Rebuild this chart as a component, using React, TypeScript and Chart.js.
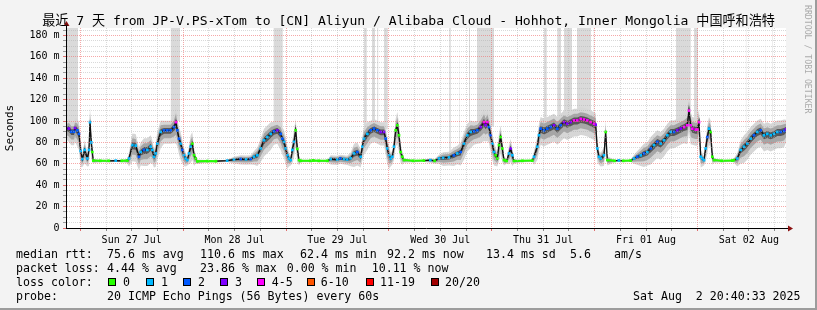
import React, { useEffect, useRef } from "react";
import { Chart, registerables } from "chart.js";

Chart.register(...registerables);

// ---------- text ----------
const TITLE =
  "最近 7 天 from JP-V.PS-xTom to [CN] Aliyun / Alibaba Cloud - Hohhot, Inner Mongolia 中国呼和浩特";
const dayLabels = ["Sun 27 Jul", "Mon 28 Jul", "Tue 29 Jul", "Wed 30 Jul", "Thu 31 Jul", "Fri 01 Aug", "Sat 02 Aug"];
const rttStats = [75.6, 110.6, 62.4, 92.2, 13.4];
const rttStatNames = ["avg", "max", "min", "now", "sd"];
const amPerSec = 5.6;
const lossStats = [4.44, 23.86, 0.0, 10.11];
const lossStatNames = ["avg", "max", "min", "now"];
const lossLabels = ["0", "1", "2", "3", "4-5", "6-10", "11-19", "20/20"];
const lossColors = ["#26ff00", "#00b8ff", "#0059ff", "#7e00ff", "#ff00ff", "#ff5500", "#ff0000", "#a10000"];
const probeText = "20 ICMP Echo Pings (56 Bytes) every 60s";
const stampText = "Sat Aug  2 20:40:33 2025";

// ---------- axes ----------
const SPAN_H = 168; // 7 days shown, hours since Sat 26 Jul 20:40
const FIRST_MIDNIGHT_H = 10 / 3; // Sun 27 Jul 00:00
const Y_MAX = 187;
const yTickValues = Array.from({ length: 38 }, (_, i) => i * 5);
const xTickValues = Array.from({ length: 28 }, (_, k) => FIRST_MIDNIGHT_H + 6 * k);

// ---------- data (hours since start, median rtt ms, loss class, smoke spread ms) ----------
const hours = [
  0.0, 0.7, 1.24, 1.87, 2.1, 2.64, 3.03, 3.42, 3.81, 4.36, 4.98, 5.37, 5.6, 5.9, 6.14, 6.38,
  8, 10, 11.6, 13, 14.3, 14.7, 15.48, 16.26, 17.03, 17.42, 18.2, 18.98, 19.76, 20.14, 20.53, 20.92, 21.31, 22.09,
  22.87, 23.64, 24.42, 25.2, 25.67, 25.98, 26.37, 26.76, 27.15, 27.53, 27.92, 28.31, 28.7, 29.09, 29.48, 29.87, 30.26, 30.64,
  33, 35, 37.6, 39.2, 40.76, 42, 43.09, 43.87, 44.64, 45.42, 46.2, 46.98, 47.76, 48.53, 49.31, 50.09, 50.48, 50.87,
  51.26, 51.65, 52.03, 52.42, 52.81, 53.2, 53.59, 53.98, 54.37, 54.8, 57, 57.7, 59, 61,
  61.76, 63.3, 64, 64.87, 65.6, 66.42, 67.2, 67.98, 68.76, 69.15, 69.53, 70.31, 71.09, 71.87, 72.65, 73.42, 74.2,
  74.59, 74.98, 75.37, 75.76, 76.14, 76.53, 76.92, 77.31, 77.7, 78.09, 78.48, 78.87, 81,
  83.53, 85, 86, 87.03, 88, 89.36, 90.5, 91.31, 92.09, 92.86, 93.64, 94.42, 95.2, 95.97, 96.75, 97.53, 97.92, 98.31,
  98.7, 99.09, 99.47, 99.86, 100.25, 100.64, 101.03, 101.42, 101.81, 102.2, 102.82, 103.36, 103.75, 104.14, 104.53,
  106.5, 108.8,
  109.2, 109.97, 110.36, 110.75, 111.53, 112.31, 113.09, 113.86, 114.64, 115.42, 116.2, 116.97, 117.75, 118.53,
  119.31, 120.09, 120.86, 121.64, 122.42, 123.2, 123.59, 123.97, 124.36, 124.75, 125.53, 125.92, 126.31, 128, 129,
  130, 131.75,
  132.53, 133.31, 134.09, 134.86, 135.64, 136.42, 137.2, 137.97, 138.75, 139.53, 140.31, 141.09, 141.86, 142.64,
  143.42, 144.2, 144.97, 145.36, 145.75, 146.14, 146.92, 147.31, 147.7, 148.09, 148.48, 148.86, 149.25, 149.64,
  150.03, 150.42, 150.81, 151.2, 153, 155.47,
  155.86, 156.64, 157.42, 158.2, 158.97, 159.75, 160.53, 161.31, 162.09, 162.86, 163.64, 164.42, 165.2, 165.98,
  166.75, 167.53, 168,
];
const median = [
  93, 93, 90, 90, 93.5, 91.3, 88, 72, 64.5, 73, 65, 73, 99, 80, 71, 63,
  62.8, 62.8, 63, 62.8, 63, 65, 77.5, 77, 66.6, 71, 73, 73, 76, 73, 66.6, 69.7, 79, 89.8,
  91.3, 91.3, 91.3, 94.4, 99, 91.3, 83.6, 79, 73, 68, 65, 63.5, 69.7, 76, 79, 68, 65, 62.3,
  62.6, 62.5, 63, 64, 64.5, 64.2, 64.5, 66.6, 68, 74.4, 82, 85, 88, 90.4, 91.3, 88, 83.6, 80.5,
  74.4, 68, 65, 63.5, 73, 80.5, 91.3, 74, 63.5, 62.8, 62.8, 63.2, 62.8, 62.8,
  64.5, 64, 65, 64.5, 64, 65.2, 69.7, 71, 66.6, 76, 83.6, 88, 91.3, 92.9, 91.3, 89.8, 89.8,
  83.6, 74.4, 68, 65, 66.6, 76, 91.3, 96, 86.7, 71, 66.6, 63.5, 62.8,
  63, 63.5, 62.8, 65, 65.5, 66, 68, 69.7, 71, 79, 86.7, 89.8, 90.4, 91.3, 94.4, 99, 96, 99,
  94.4, 86.7, 79, 71, 68, 65, 77.5, 85, 74.4, 63.5, 62.7, 69.7, 74.4, 68, 62.7,
  62.8, 63,
  66.6, 76, 86.7, 92.9, 91.3, 92.9, 94.4, 96, 92.9, 96, 99, 97.5, 99, 100.6,
  100.6, 102, 101.5, 100.6, 99, 97.5, 96.6, 74.4, 66.6, 65, 68, 89.8, 63.5, 62.8, 63.2,
  62.8, 63,
  65, 66.6, 68, 69.7, 71, 74.4, 77.5, 80.5, 79, 82, 86.7, 89.8, 89.8, 91.3,
  92.9, 94.4, 96, 109.8, 96, 92.9, 92, 92, 99, 66.6, 65, 63.5, 74.4, 85,
  92.9, 89.8, 66.6, 63.5, 62.8, 63,
  63.5, 65, 73, 76, 79, 83.6, 86.7, 89.8, 91.3, 86.7, 88, 86.7, 88, 89.8,
  89.8, 90.7, 92.2,
];
const loss = [
  3, 3, 2, 2, 3, 2, 2, 1, 1, 1, 1, 1, 1, 1, 0, 0,
  0, 0, 1, 0, 0, 1, 1, 1, 2, 1, 2, 1, 1, 1, 1, 1, 1, 1,
  2, 2, 2, 2, 4, 2, 2, 1, 2, 1, 1, 1, 1, 1, 0, 0, 0, 0,
  0, 0, 1, 1, 2, 1, 2, 1, 1, 1, 1, 1, 1, 2, 3, 2, 2, 1,
  1, 1, 1, 1, 1, 1, 0, 0, 0, 0, 0, 0, 0, 0,
  1, 1, 2, 1, 1, 1, 1, 2, 1, 1, 1, 1, 2, 2, 2, 3, 3,
  2, 1, 1, 1, 1, 1, 0, 0, 0, 0, 0, 0, 0,
  0, 1, 0, 1, 1, 1, 2, 1, 2, 1, 1, 1, 2, 2, 3, 4, 3, 4,
  2, 2, 1, 1, 0, 0, 0, 0, 0, 0, 0, 1, 3, 1, 0,
  0, 0,
  1, 1, 1, 2, 2, 2, 2, 3, 2, 2, 3, 3, 3, 4,
  4, 4, 4, 4, 4, 4, 3, 1, 1, 1, 1, 0, 0, 0, 1,
  0, 0,
  1, 2, 1, 2, 1, 2, 1, 2, 1, 1, 1, 1, 2, 3,
  3, 4, 4, 4, 4, 4, 4, 4, 4, 1, 1, 1, 1, 2,
  1, 0, 0, 0, 0, 0,
  0, 1, 1, 1, 1, 1, 2, 1, 2, 1, 1, 1, 1, 1,
  2, 2, 3,
];
const smoke = [
  4, 5, 5, 5, 5, 6, 6, 6, 3, 5, 3, 6, 8, 6, 4, 1,
  0.5, 0.5, 0.5, 0.5, 1, 3, 6, 6, 5, 5, 6, 6, 6, 5, 4, 5, 6, 6,
  5, 5, 5, 6, 8, 6, 6, 6, 5, 4, 3, 2, 4, 6, 6, 4, 2, 1,
  0.5, 0.5, 0.5, 1.5, 2, 2, 2, 3, 4, 5, 6, 6, 6, 5, 5, 6, 6, 6,
  6, 5, 3, 2, 5, 6, 6, 5, 2, 0.5, 0.5, 0.5, 0.5, 0.5,
  2, 2, 2, 2, 2, 3, 5, 5, 4, 5, 6, 6, 5, 5, 5, 5, 5,
  6, 6, 5, 3, 3, 5, 6, 7, 6, 4, 3, 1, 0.5,
  0.5, 1, 1, 2, 3, 3, 4, 4, 5, 6, 6, 6, 5, 5, 6, 7, 6, 7,
  6, 6, 6, 5, 4, 3, 6, 6, 5, 2, 1, 4, 5, 4, 1,
  0.5, 0.5,
  3, 5, 6, 6, 6, 6, 6, 6, 6, 6, 6, 6, 6, 6,
  6, 6, 6, 6, 6, 6, 6, 5, 3, 3, 4, 6, 2, 0.5, 0.5,
  0.5, 0.5,
  2, 3, 4, 5, 5, 6, 6, 6, 6, 6, 6, 6, 6, 6,
  6, 6, 7, 8, 7, 6, 6, 6, 7, 4, 3, 2, 5, 6,
  6, 6, 3, 1, 0.5, 0.5,
  1, 3, 5, 6, 6, 6, 6, 6, 6, 6, 6, 6, 6, 6,
  6, 6, 5,
];

// light-grey smoke columns that run off the top of the graph
const spikeStart = [0.2, 24.4, 48.4, 69.5, 71.4, 72.6, 74.2, 89.4, 91.7, 94.0, 95.9, 111.5, 114.6, 116.2, 119.2, 123.1, 142.3, 146.5, 158.6, 163.1, 164.7];
const spikeEnd = [2.8, 26.6, 50.6, 70.2, 72.1, 72.9, 75.1, 89.8, 91.9, 94.3, 99.9, 112.2, 115.5, 118.1, 122.5, 123.3, 145.8, 147.5, 158.8, 163.3, 164.9];
const spikeLow = [95, 100, 95, 92, 95, 95, 92, 68, 72, 90, 95, 95, 95, 100, 102, 95, 95, 95, 80, 90, 90];

const MONO = "'DejaVu Sans Mono', 'Noto Sans CJK SC', monospace";

const isMidnight = (v: number) => {
  const r = (((v - FIRST_MIDNIGHT_H) % 24) + 24) % 24;
  return r < 0.01 || r > 23.99;
};

const RED_GRID = "rgba(240,110,110,0.6)";
const GREY_GRID = "rgba(170,170,170,0.45)";

const bgPlugin = {
  id: "plotBg",
  beforeDraw(chart: any) {
    const { ctx, chartArea } = chart;
    ctx.save();
    ctx.fillStyle = "#ffffff";
    ctx.fillRect(chartArea.left, chartArea.top, chartArea.right - chartArea.left, chartArea.bottom - chartArea.top);
    ctx.restore();
  },
};

const arrowPlugin = {
  id: "axisArrows",
  afterDraw(chart: any) {
    const { ctx, chartArea } = chart;
    const { left, right, top, bottom } = chartArea;
    ctx.save();
    ctx.strokeStyle = "#000";
    ctx.lineWidth = 1;
    ctx.beginPath();
    ctx.moveTo(right, bottom + 0.5);
    ctx.lineTo(right + 3, bottom + 0.5);
    ctx.moveTo(left + 0.5, top);
    ctx.lineTo(left + 0.5, top - 3);
    ctx.stroke();
    ctx.fillStyle = "#8b1010";
    ctx.beginPath();
    ctx.moveTo(right + 2, bottom - 2.5);
    ctx.lineTo(right + 7, bottom + 0.5);
    ctx.lineTo(right + 2, bottom + 3.5);
    ctx.closePath();
    ctx.fill();
    ctx.beginPath();
    ctx.moveTo(left - 2.5, top - 2);
    ctx.lineTo(left + 0.5, top - 7);
    ctx.lineTo(left + 3.5, top - 2);
    ctx.closePath();
    ctx.fill();
    ctx.restore();
  },
};

function SmokeChart() {
  const ref = useRef<HTMLCanvasElement | null>(null);
  useEffect(() => {
    if (!ref.current) return;
    const datasets: any[] = [];
    spikeStart.forEach((s, i) => {
      datasets.push({
        type: "line",
        data: [
          { x: s, y: Y_MAX },
          { x: spikeEnd[i], y: Y_MAX },
        ],
        fill: { value: spikeLow[i] },
        backgroundColor: "#dadada",
        borderColor: "rgba(0,0,0,0)",
        borderWidth: 0,
        pointRadius: 0,
        order: 30,
      });
    });
    const bands: [number, string][] = [
      [1.8, "#d6d6d6"],
      [1.05, "#a6a6a6"],
      [0.45, "#575757"],
    ];
    bands.forEach(([k, c], j) => {
      const lowIdx = datasets.length;
      datasets.push({
        type: "line",
        data: hours.map((h, i) => ({ x: h, y: median[i] - smoke[i] * k * 1.4 })),
        borderColor: "rgba(0,0,0,0)",
        borderWidth: 0,
        pointRadius: 0,
        fill: false,
        order: 20 - j * 2,
      });
      datasets.push({
        type: "line",
        data: hours.map((h, i) => ({ x: h, y: median[i] + smoke[i] * k })),
        borderColor: "rgba(0,0,0,0)",
        borderWidth: 0,
        pointRadius: 0,
        fill: lowIdx,
        backgroundColor: c,
        order: 20 - j * 2,
      });
    });
    datasets.push({
      type: "line",
      data: hours.map((h, i) => ({ x: h, y: median[i] })),
      borderWidth: 1.3,
      borderColor: "#141414",
      segment: {
        borderColor: (c: any) => {
          const a = c.p0DataIndex;
          const b = c.p1DataIndex;
          return loss[a] === 0 && loss[b] === 0 && Math.abs(median[a] - median[b]) < 1.2 ? lossColors[0] : "#111111";
        },
        borderWidth: (c: any) => {
          const a = c.p0DataIndex;
          const b = c.p1DataIndex;
          return loss[a] === 0 && loss[b] === 0 && Math.abs(median[a] - median[b]) < 1.2 ? 2 : 1.3;
        },
      },
      pointStyle: "rect",
      pointRadius: 1.9,
      pointBorderWidth: 0,
      pointBackgroundColor: loss.map((l) => lossColors[l]),
      order: 0,
    });

    const chart = new Chart(ref.current, {
      type: "line",
      data: { datasets },
      plugins: [bgPlugin, arrowPlugin],
      options: {
        animation: false,
        responsive: false,
        maintainAspectRatio: false,
        events: [],
        elements: { line: { tension: 0 } },
        layout: { padding: { top: 28, right: 31, left: 0, bottom: 0 } },
        plugins: { legend: { display: false }, tooltip: { enabled: false }, title: { display: false } },
        scales: {
          x: {
            type: "linear",
            min: 0,
            max: SPAN_H,
            afterBuildTicks: (s: any) => {
              s.ticks = xTickValues.map((v) => ({ value: v }));
            },
            afterFit: (s: any) => {
              s.height = 22;
            },
            ticks: {
              autoSkip: false,
              maxRotation: 0,
              minRotation: 0,
              padding: 3,
              color: "#000",
              font: { family: MONO, size: 10 },
              callback: (_v: any, i: number) => (i % 4 === 2 ? dayLabels[(i - 2) / 4] : ""),
            },
            grid: {
              z: 1,
              lineWidth: 1,
              color: (c: any) => (isMidnight(c.tick.value) ? RED_GRID : GREY_GRID),
              tickColor: (c: any) => (isMidnight(c.tick.value) ? "#e07070" : "#888"),
              tickLength: 3,
            },
            border: { display: true, color: "#000", width: 1, dash: [1, 1], z: 2 },
          },
          y: {
            type: "linear",
            min: 0,
            max: Y_MAX,
            afterBuildTicks: (s: any) => {
              s.ticks = yTickValues.map((v) => ({ value: v }));
            },
            afterFit: (s: any) => {
              s.width = 66;
            },
            ticks: {
              autoSkip: false,
              padding: 3.5,
              color: "#000",
              font: { family: MONO, size: 10 },
              callback: (v: any) => (v % 20 === 0 ? (v === 0 ? "0" : `${v} m`) : ""),
            },
            grid: {
              z: 1,
              lineWidth: 1,
              color: (c: any) => (c.tick.value % 20 === 0 ? RED_GRID : GREY_GRID),
              tickColor: (c: any) => (c.tick.value % 20 === 0 ? "#e07070" : "#999"),
              tickLength: 3,
            },
            border: { display: true, color: "#000", width: 1, dash: [1, 1], z: 2 },
            title: {
              display: true,
              text: "Seconds",
              color: "#000",
              font: { family: MONO, size: 11 },
              padding: { top: 4, bottom: 0 },
            },
          },
        },
      } as any,
    });
    return () => chart.destroy();
  }, []);
  return (
    <canvas
      ref={ref}
      width={817}
      height={250}
      style={{ position: "absolute", left: 0, top: 0, width: 817, height: 250 }}
    />
  );
}

const txt: React.CSSProperties = {
  position: "absolute",
  fontFamily: MONO,
  fontSize: 11.6,
  lineHeight: "14px",
  whiteSpace: "pre",
  color: "#000",
};

export default function App() {
  const rttX = [107, 200, 300, 387, 486];
  const lossX = [107, 200, 286.7, 371.7];
  const boxX = [108, 146, 182.7, 220, 257.3, 306.7, 365.7, 430.7];
  const labX = [123, 161, 198, 235, 271.7, 320.7, 380, 445];
  return (
    <div
      style={{
        position: "fixed",
        left: 0,
        top: 0,
        width: 817,
        height: 310,
        background: "#f3f3f3",
        overflow: "hidden",
      }}
    >
      <SmokeChart />
      <div
        style={{
          position: "absolute",
          left: 0,
          top: 13,
          width: 817,
          textAlign: "center",
          fontFamily: MONO,
          fontSize: 13.1,
          lineHeight: "16px",
          whiteSpace: "pre",
          color: "#000",
        }}
      >
        {TITLE}
      </div>
      <div
        style={{
          position: "absolute",
          left: 803,
          top: 5,
          writingMode: "vertical-rl",
          fontFamily: MONO,
          fontSize: 8.2,
          lineHeight: "10px",
          color: "#aaaaaa",
          whiteSpace: "pre",
        }}
      >
        RRDTOOL / TOBI OETIKER
      </div>
      {/* median rtt */}
      <div style={{ ...txt, left: 16, top: 247 }}>median rtt:</div>
      {rttStats.map((v, i) => (
        <div key={"r" + i} style={{ ...txt, left: rttX[i], top: 247 }}>
          {`${v.toFixed(1)} ms ${rttStatNames[i]}`}
        </div>
      ))}
      <div style={{ ...txt, left: 570, top: 247 }}>{amPerSec.toFixed(1)}</div>
      <div style={{ ...txt, left: 614, top: 247 }}>am/s</div>
      {/* packet loss */}
      <div style={{ ...txt, left: 16, top: 261 }}>packet loss:</div>
      {lossStats.map((v, i) => (
        <div key={"l" + i} style={{ ...txt, left: lossX[i], top: 261 }}>
          {`${v.toFixed(2)} % ${lossStatNames[i]}`}
        </div>
      ))}
      {/* loss colors */}
      <div style={{ ...txt, left: 16, top: 275 }}>loss color:</div>
      {lossLabels.map((lab, i) => (
        <React.Fragment key={"c" + i}>
          <div
            style={{
              position: "absolute",
              left: boxX[i],
              top: 278,
              width: 6,
              height: 6,
              border: "1px solid #000",
              background: lossColors[i],
            }}
          />
          <div style={{ ...txt, left: labX[i], top: 275 }}>{lab}</div>
        </React.Fragment>
      ))}
      {/* probe */}
      <div style={{ ...txt, left: 16, top: 289 }}>probe:</div>
      <div style={{ ...txt, left: 107, top: 289 }}>{probeText}</div>
      <div style={{ ...txt, left: 633, top: 289 }}>{stampText}</div>
      {/* frame shading */}
      <div style={{ position: "absolute", right: 0, top: 0, width: 2, height: 310, background: "#9c9c9c" }} />
      <div style={{ position: "absolute", left: 0, bottom: 0, width: 817, height: 2, background: "#9c9c9c" }} />
    </div>
  );
}
